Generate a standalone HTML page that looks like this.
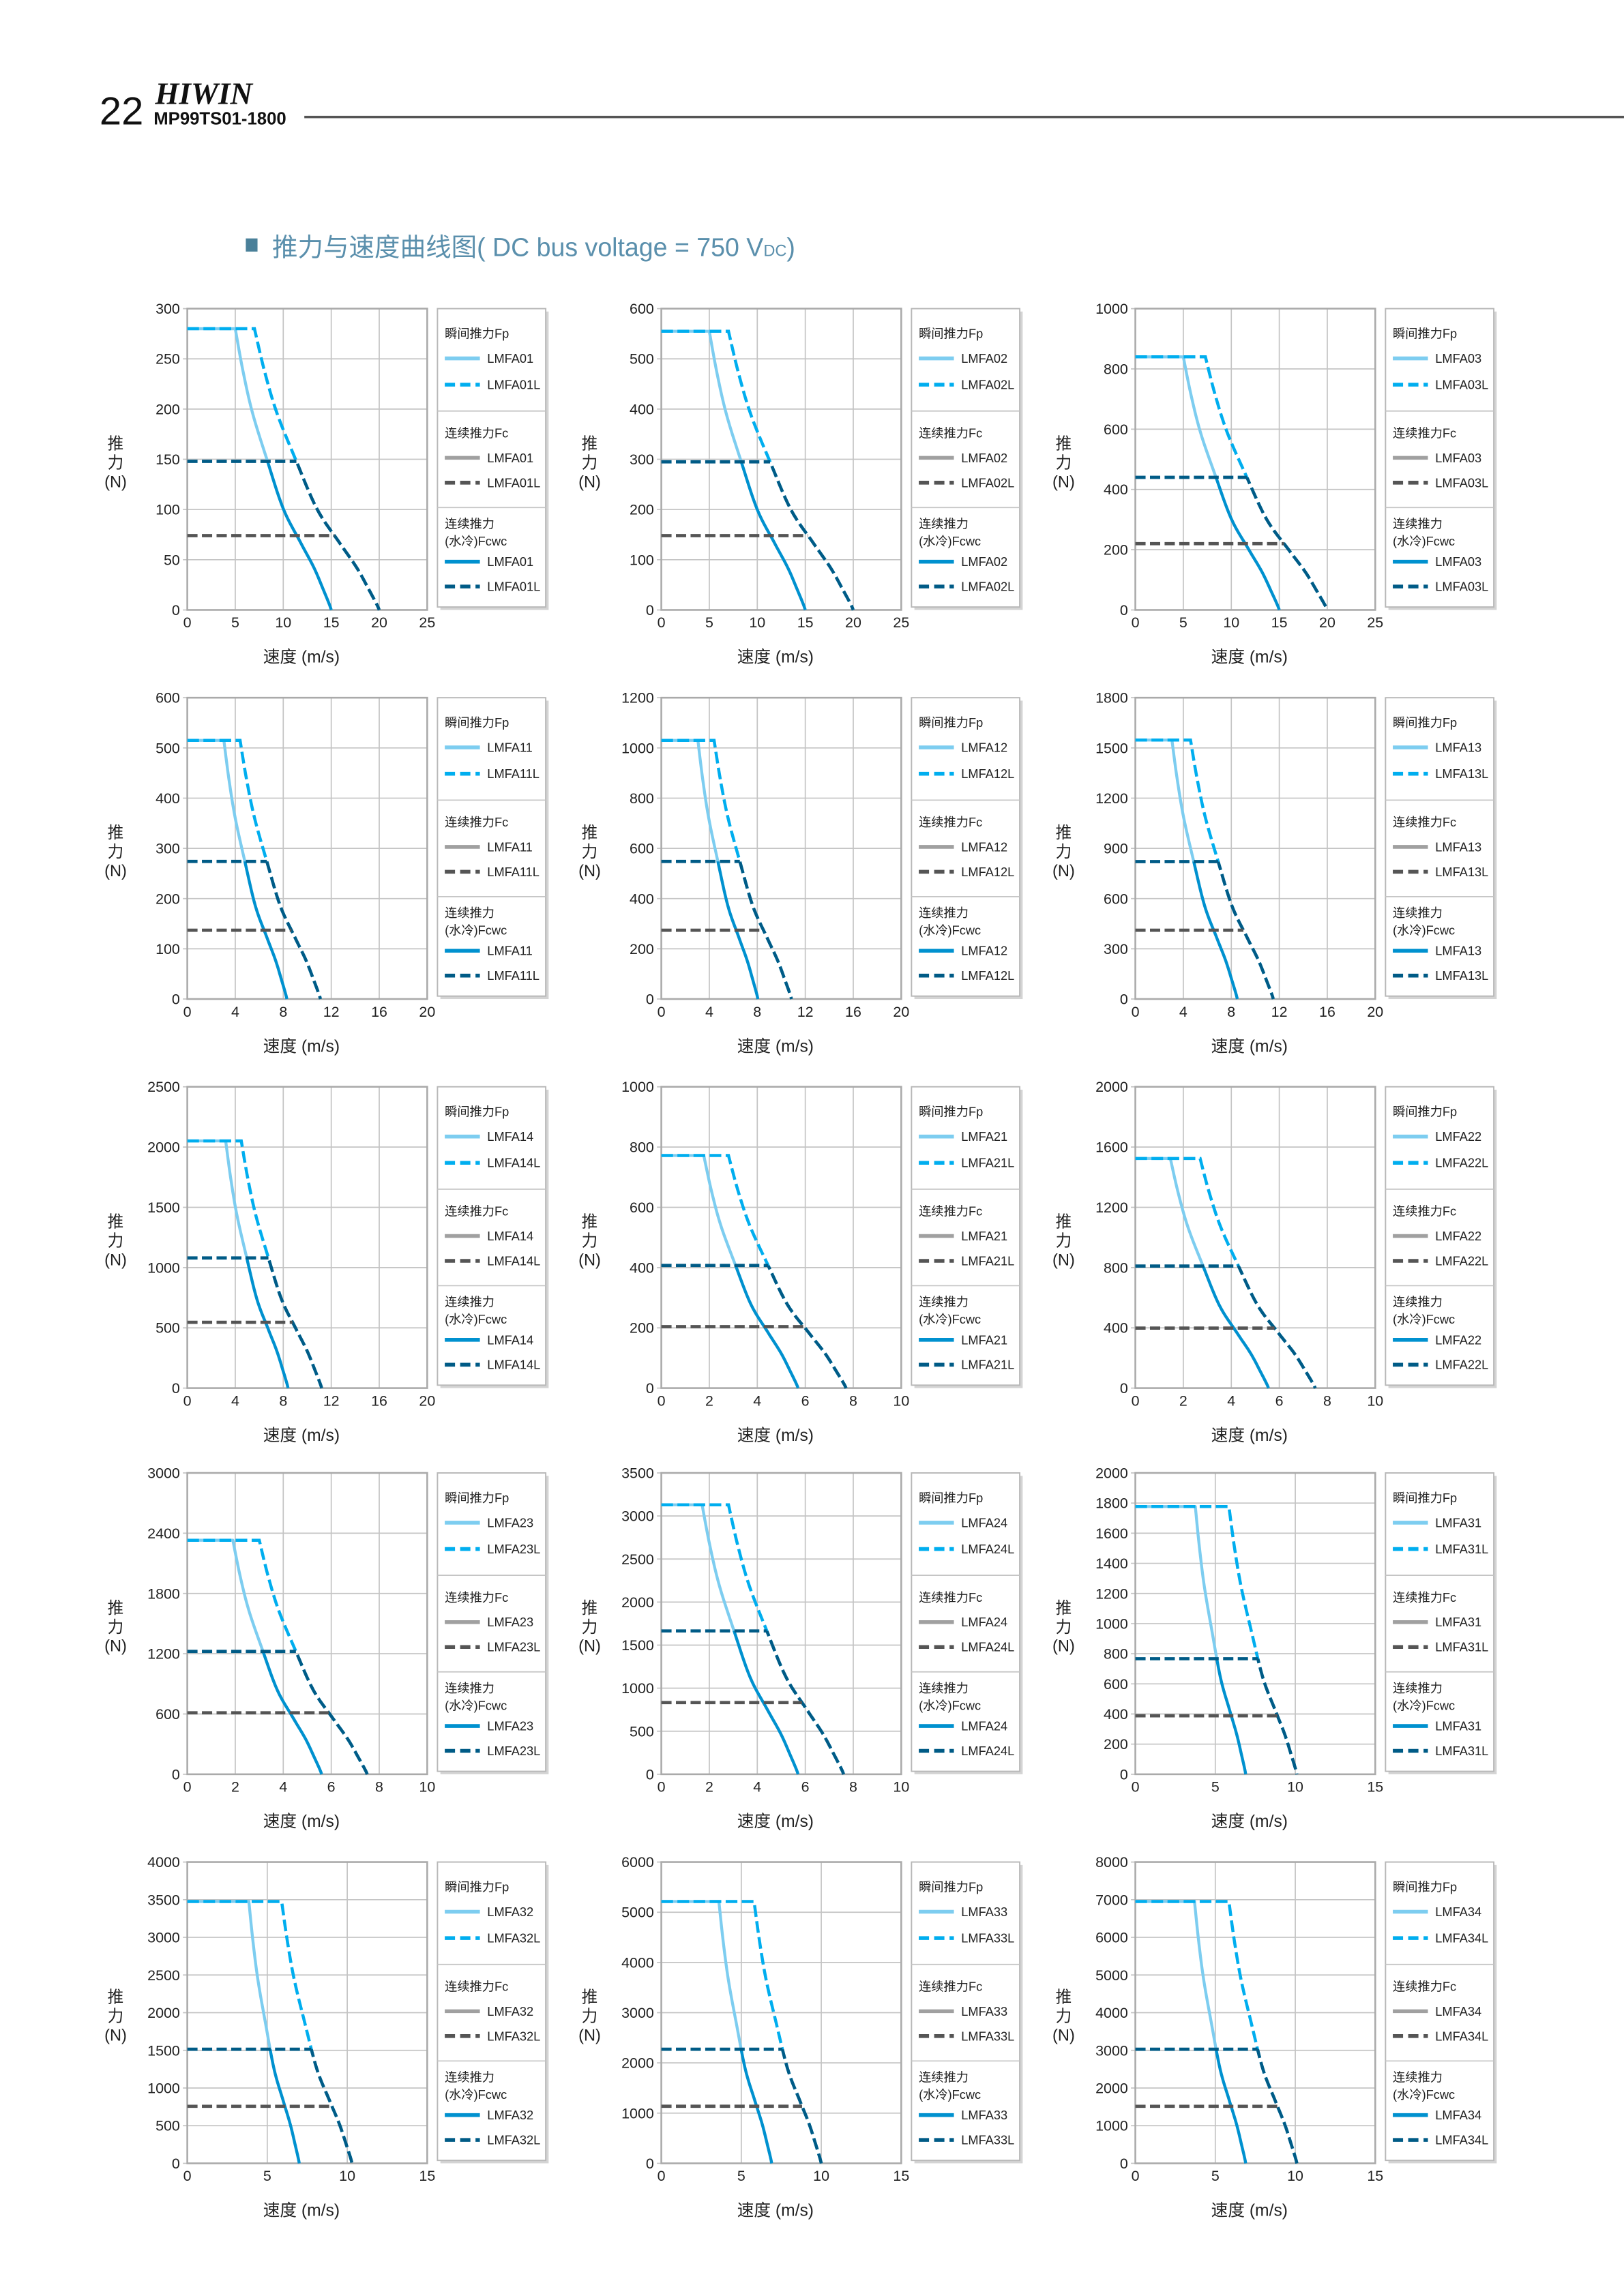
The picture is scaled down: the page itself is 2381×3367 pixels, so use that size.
<!DOCTYPE html>
<html><head><meta charset="utf-8">
<style>
html,body{margin:0;padding:0;background:#fff;}
svg{display:block;}
text{font-family:"Liberation Sans Narrow","Liberation Sans","Noto Sans CJK SC",sans-serif;}
</style></head>
<body>
<svg id="s" xmlns="http://www.w3.org/2000/svg" width="2381" height="3367" viewBox="0 0 1110 1569.7">
<rect width="1110" height="1570" fill="#fff"/>
<text x="68" y="85" font-size="27" fill="#111" style="font-family:'Liberation Sans Narrow','Liberation Sans',sans-serif">22</text>
<text x="106" y="71" font-size="21" font-weight="bold" font-style="italic" fill="#111" style="font-family:'Liberation Serif',serif">HIWIN</text>
<text x="105" y="85" font-size="12" font-weight="bold" fill="#111">MP99TS01-1800</text>
<line x1="208" y1="80" x2="1110" y2="80" stroke="#555" stroke-width="1.6"/>
<rect x="168" y="163" width="8" height="9" fill="#4a8099"/>
<text x="186" y="175" font-size="17.5" fill="#5a8fac" style="font-family:'Liberation Sans Narrow','Liberation Sans','Noto Sans CJK SC',sans-serif">推力与速度曲线图( DC bus voltage = 750 V<tspan font-size="11">DC</tspan>)</text>
<g id="charts"></g>
</svg>
<script>
var C=[
[25,5,300,50,280,5,7,15,20,148,74,'LMFA01'],
[25,5,600,100,555,5,7,15,20,295,148,'LMFA02'],
[25,5,1000,200,840,5,7.3,15,20,440,220,'LMFA03'],
[20,4,600,100,515,3.05,4.4,8.3,11.1,274,137,'LMFA11'],
[20,4,1200,200,1030,3.05,4.4,8.05,10.85,548,274,'LMFA12'],
[20,4,1800,300,1547,3.05,4.6,8.5,11.5,821,411,'LMFA13'],
[20,4,2500,500,2051,3.2,4.5,8.4,11.2,1080,546,'LMFA14'],
[10,2,1000,200,772,1.77,2.8,5.7,7.7,407,204,'LMFA21'],
[10,2,2000,400,1524,1.46,2.7,5.55,7.5,810,398,'LMFA22'],
[10,2,3000,600,2330,1.9,3.0,5.6,7.5,1223,612,'LMFA23'],
[10,2,3500,500,3130,1.7,2.8,5.7,7.6,1665,833,'LMFA24'],
[15,5,2000,200,1777,3.75,5.85,6.9,10.1,767,388,'LMFA31'],
[15,5,4000,500,3476,3.85,5.9,7.0,10.3,1515,757,'LMFA32'],
[15,5,6000,1000,5214,3.6,5.8,6.9,10.0,2272,1136,'LMFA33'],
[15,5,8000,1000,6951,3.7,5.85,6.9,10.1,3029,1514,'LMFA34']];
var P0=[[0,1],[0.08,0.85],[0.18,0.7],[0.33,0.535],[0.5,0.36],[0.68,0.24],[0.82,0.15],[0.92,0.07],[0.98,0.02],[1,0]];
// smooth via catmull-rom
var P=[P0[0]];
for(var i=0;i<P0.length-1;i++){
 var p0=P0[Math.max(0,i-1)],p1=P0[i],p2=P0[i+1],p3=P0[Math.min(P0.length-1,i+2)];
 for(var s=1;s<=8;s++){var t=s/8,t2=t*t,t3=t2*t;
  var f=function(a,b,c,d){return 0.5*(2*b+(-a+c)*t+(2*a-5*b+4*c-d)*t2+(-a+3*b-3*c+d)*t3);};
  P.push([f(p0[0],p1[0],p2[0],p3[0]),f(p0[1],p1[1],p2[1],p3[1])]);}
}
function inv(v){for(var i=0;i<P.length-1;i++){var a=P[i],b=P[i+1];if(v<=a[1]&&v>=b[1]&&a[1]!=b[1]){return a[0]+(b[0]-a[0])*(a[1]-v)/(a[1]-b[1]);}}return 1;}
var lefts=[128,452,776],tops=[211,477,743,1007,1273],W=164,H=206;
var out='',id=0;
var LB='#7dcdf0',BB='#00aeef',MB='#0091cf',DB='#005b86',G1='#a0a0a0',G2='#555';
C.forEach(function(c,k){
 var L=lefts[k%3],T=tops[Math.floor(k/3)];
 var xm=c[0],xs=c[1],ym=c[2],ys=c[3],fp=c[4],xa=c[5],xb=c[6],xe=c[7],xeL=c[8],fw=c[9],fc=c[10],nm=c[11];
 function X(v){return L+v/xm*W;} function Y(v){return T+H-v/ym*H;}
 var g='';
 for(var v=0;v<=xm+1e-9;v+=xs){g+='<line x1="'+X(v)+'" y1="'+T+'" x2="'+X(v)+'" y2="'+(T+H)+'" stroke="#c4c4c4" stroke-width="0.8"/>';
  g+='<text x="'+X(v)+'" y="'+(T+H+12)+'" font-size="10" text-anchor="middle" fill="#222">'+Math.round(v)+'</text>';}
 for(var v=0;v<=ym+1e-9;v+=ys){g+='<line x1="'+(L-3)+'" y1="'+Y(v)+'" x2="'+(L+W)+'" y2="'+Y(v)+'" stroke="#c4c4c4" stroke-width="0.8"/>';
  g+='<text x="'+(L-5)+'" y="'+(Y(v)+3.5)+'" font-size="10" text-anchor="end" fill="#222">'+Math.round(v)+'</text>';}
 g+='<rect x="'+L+'" y="'+T+'" width="'+W+'" height="'+H+'" fill="none" stroke="#aaa" stroke-width="1.2"/>';
 function curve(x0,x1){var d='M'+X(0)+','+Y(fp)+' L'+X(x0)+','+Y(fp);for(var i=1;i<P.length;i++){d+=' L'+X(x0+(x1-x0)*P[i][0]).toFixed(2)+','+Y(fp*P[i][1]).toFixed(2);}return d;}
 var cid='c'+(id++);
 g+='<clipPath id="'+cid+'"><rect x="'+(L-5)+'" y="'+Y(fw)+'" width="'+(W+10)+'" height="'+(T+H-Y(fw)+5)+'"/></clipPath>';
 var ds=curve(xa,xe),dl=curve(xb,xeL);
 g+='<path d="'+ds+'" fill="none" stroke="'+LB+'" stroke-width="2" stroke-linejoin="round"/>';
 g+='<path d="'+ds+'" fill="none" stroke="'+MB+'" stroke-width="2" stroke-linejoin="round" clip-path="url(#'+cid+')"/>';
 g+='<path d="'+dl+'" fill="none" stroke="'+BB+'" stroke-width="2.1" stroke-dasharray="8,3"/>';
 g+='<path d="'+dl+'" fill="none" stroke="'+DB+'" stroke-width="2.1" stroke-dasharray="8,3" clip-path="url(#'+cid+')"/>';
 var xw=xb+(xeL-xb)*inv(fw/fp),xc=xb+(xeL-xb)*inv(fc/fp);
 g+='<line x1="'+L+'" y1="'+Y(fc)+'" x2="'+X(xc)+'" y2="'+Y(fc)+'" stroke="'+G2+'" stroke-width="2.2" stroke-dasharray="7,3"/>';
 g+='<line x1="'+L+'" y1="'+Y(fw)+'" x2="'+X(xw)+'" y2="'+Y(fw)+'" stroke="'+DB+'" stroke-width="2.2" stroke-dasharray="7,3"/>';
 var ym2=T+H/2;
 var ax=L-49;
 g+='<text x="'+ax+'" y="'+(ym2-7)+'" font-size="11" text-anchor="middle" fill="#222">推</text>';
 g+='<text x="'+ax+'" y="'+(ym2+6)+'" font-size="11" text-anchor="middle" fill="#222">力</text>';
 g+='<text x="'+ax+'" y="'+(ym2+19)+'" font-size="11" text-anchor="middle" fill="#222">(N)</text>';
 g+='<text x="'+(L+W/2-4)+'" y="'+(T+H+36)+'" font-size="11.5" text-anchor="middle" fill="#222">速度 (m/s)</text>';
 var lx=L+171,lw=74,lh=204;
 g+='<rect x="'+(lx+2)+'" y="'+(T+2)+'" width="'+lw+'" height="'+lh+'" fill="#d4d4d4"/>';
 g+='<rect x="'+lx+'" y="'+T+'" width="'+lw+'" height="'+lh+'" fill="#fff" stroke="#b8b8b8" stroke-width="0.9"/>';
 g+='<line x1="'+lx+'" y1="'+(T+70)+'" x2="'+(lx+lw)+'" y2="'+(T+70)+'" stroke="#c4c4c4" stroke-width="0.8"/>';
 g+='<line x1="'+lx+'" y1="'+(T+136)+'" x2="'+(lx+lw)+'" y2="'+(T+136)+'" stroke="#c4c4c4" stroke-width="0.8"/>';
 function ent(y,col,dash,txt){return '<line x1="'+(lx+5)+'" y1="'+y+'" x2="'+(lx+29)+'" y2="'+y+'" stroke="'+col+'" stroke-width="2.6"'+(dash?' stroke-dasharray="7,3.5"':'')+'/><text x="'+(lx+34)+'" y="'+(y+3)+'" font-size="8.5" fill="#222">'+txt+'</text>';}
 function hd(y,t){return '<text x="'+(lx+5)+'" y="'+y+'" font-size="8.5" fill="#222">'+t+'</text>';}
 g+=hd(T+20,'瞬间推力Fp')+ent(T+34,LB,0,nm)+ent(T+52,BB,1,nm+'L');
 g+=hd(T+88,'连续推力Fc')+ent(T+102,G1,0,nm)+ent(T+119,G2,1,nm+'L');
 g+=hd(T+150,'连续推力')+hd(T+162,'(水冷)Fcwc')+ent(T+173,MB,0,nm)+ent(T+190,DB,1,nm+'L');
 out+=g;
});
document.getElementById('charts').innerHTML=out;
</script>
</body></html>
